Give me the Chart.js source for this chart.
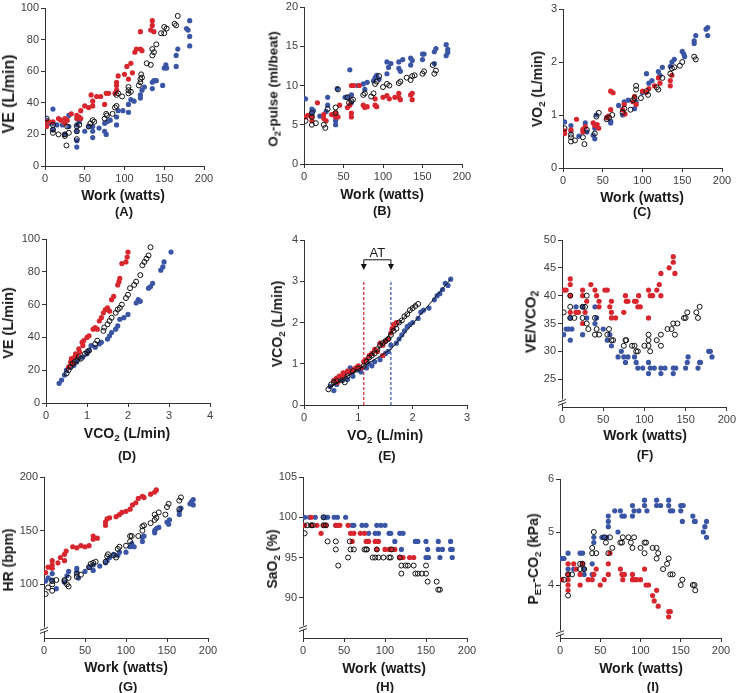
<!DOCTYPE html>
<html>
<head>
<meta charset="utf-8">
<script src="https://cdn.jsdelivr.net/npm/chart.js@4"></script>
<style>
  html, body { margin: 0; padding: 0; background: #fff; overflow: hidden; }
  body { width: 738px; height: 693px; position: relative; font-family: Arial, "Liberation Sans", sans-serif; }
  canvas { position: absolute; }
  .t { position: absolute; white-space: nowrap; font-weight: bold; color: #1a1a1a; transform: translate(-50%, -50%); }
  .t.v { transform: translate(-50%, -50%) rotate(-90deg); }
  .t sub { font-size: 70%; vertical-align: -0.3em; line-height: 0; }
  .lbl { font-size: 13px; }
</style>
</head>
<body>
<script>
// tick values
const workTicks = [0, 50, 100, 150, 200];
const veTicks = [0, 20, 40, 60, 80, 100];
const o2pTicks = [0, 5, 10, 15, 20];
const vo2Ticks = [0, 1, 2, 3];
const vco2Ticks = [0, 1, 2, 3, 4];
const vo2xTicks = [0, 1, 2, 3];
const eqTicks = [25, 30, 35, 40, 45, 50];
const hrTicks = [100, 150, 200];
const sao2Ticks = [90, 95, 100, 105];
const petTicks = [4, 5, 6];

// (A) VE vs work
const veWorkRed = [[2,25],[2,28],[5,28],[10,28],[17,30],[20,29],[25,27],[25,30],[28,29],[33,33],[40,32],[40,30],[43,31],[45,35],[45,30],[50,38],[55,37],[58,45],[60,41],[60,38],[65,44],[70,44],[75,39],[77,46],[80,46],[88,46],[90,48],[90,51],[90,53],[92,57],[100,58],[103,63],[105,55],[108,65],[110,59],[113,72],[115,74],[120,85],[120,74],[122,73],[133,86],[135,92],[135,89],[137,85]];
const veWorkBlack = [[2,30],[10,26],[10,23],[10,21],[17,20],[25,20],[25,19],[27,13],[30,21],[28,25],[40,25],[40,17],[40,22],[43,26],[55,25],[57,27],[60,29],[62,28],[75,30],[77,33],[78,32],[85,33],[88,37],[90,38],[90,45],[92,46],[97,44],[105,50],[105,48],[105,46],[108,47],[118,51],[120,53],[120,55],[121,58],[122,56],[128,65],[133,64],[135,70],[135,74],[137,72],[140,77],[146,84],[150,84],[150,88],[153,87],[163,90],[165,89],[167,95]];
const veWorkBlue = [[2,29],[5,27],[10,36],[10,27],[10,23],[15,26],[22,26],[25,20],[30,25],[30,32],[40,26],[40,22],[40,16],[40,12],[43,28],[50,22],[55,25],[60,22],[60,18],[60,25],[68,24],[75,22],[75,27],[77,20],[78,28],[82,29],[90,31],[90,26],[92,35],[98,35],[105,34],[105,39],[108,42],[112,41],[120,45],[120,43],[122,48],[125,50],[135,49],[135,53],[137,54],[140,54],[148,51],[150,62],[152,64],[153,62],[165,63],[165,70],[167,74],[178,87],[180,86],[182,92],[182,82],[182,76]];

// (B) O2-pulse vs work
const o2pRed = [[2,6],[5,6.2],[10,6],[10,5.5],[17,7.8],[25,5.8],[25,6.3],[28,5.5],[35,6.3],[40,6],[40,6.5],[43,6],[45,7.5],[55,7.2],[58,7.5],[60,6.5],[60,6],[60,10],[63,10],[70,10],[75,7.5],[77,7.2],[80,7.3],[90,7.5],[90,8.3],[92,7.3],[100,8.5],[105,8.7],[108,8.3],[115,8.5],[120,9],[120,8.5],[122,8.2],[135,8.8],[137,8.2],[137,9]];
const o2pBlack = [[2,5.5],[10,5],[10,6],[10,6.5],[15,5.2],[25,5],[27,4.6],[30,7],[40,6.5],[40,7.2],[43,9.5],[55,8.5],[57,7.8],[60,8],[62,8.2],[75,8.8],[77,9],[85,8.6],[88,9],[90,10.2],[92,10.5],[95,11.2],[100,9.8],[105,10.2],[108,10],[120,10.3],[122,10.5],[130,11],[135,10.7],[137,11.2],[140,11.3],[150,11.5],[152,11.8],[165,11.5],[167,11.9],[163,12.6]];
const o2pBlue = [[2,8.3],[10,7],[10,6.5],[12,6.8],[20,6.1],[28,6.7],[30,7.5],[30,8.5],[40,5.5],[40,5],[40,6.2],[42,9.6],[52,8.5],[55,8.5],[58,12],[60,8.8],[60,7.8],[68,10],[75,10.2],[77,9.5],[80,10.4],[88,10.6],[90,11],[92,11.3],[95,10.8],[105,13],[105,11.5],[107,12.3],[110,12.8],[120,13],[120,12.2],[122,11.8],[125,13.3],[135,13.5],[135,12.6],[137,13.2],[150,14],[150,13.3],[152,14],[165,14.3],[167,14.7],[165,12.8],[180,15.2],[182,14.6],[182,14.2],[180,13.8]];

// (C) VO2 vs work
const vo2Red = [[2,0.7],[2,0.65],[10,0.72],[17,0.92],[25,0.73],[25,0.68],[28,0.78],[38,0.85],[40,0.8],[43,0.82],[45,0.75],[55,0.95],[57,0.98],[60,1.45],[60,1.1],[63,1.42],[75,1.1],[77,1.2],[78,1.02],[88,1.25],[90,1.35],[92,1.2],[100,1.45],[105,1.43],[108,1.5],[115,1.55],[120,1.7],[122,1.6],[135,1.65],[135,1.55],[137,1.75]];
const vo2Black = [[2,0.75],[10,0.5],[10,0.58],[10,0.63],[15,0.52],[25,0.58],[27,0.45],[30,0.72],[40,0.65],[42,0.97],[45,1.04],[55,0.92],[58,0.95],[62,1.0],[75,1.05],[77,1.12],[85,1.1],[88,1.28],[90,1.32],[92,1.48],[92,1.55],[98,1.32],[105,1.45],[107,1.38],[118,1.52],[120,1.48],[125,1.7],[135,1.78],[137,1.88],[140,1.9],[147,1.93],[150,2.0],[165,2.1],[167,2.05]];
const vo2Blue = [[2,0.87],[10,0.8],[10,0.7],[20,0.6],[28,0.85],[30,0.68],[38,0.62],[40,0.55],[40,0.75],[42,1.0],[55,0.95],[60,0.88],[60,0.85],[70,1.18],[75,1.0],[77,1.25],[82,1.28],[90,1.12],[92,1.25],[100,1.42],[105,1.78],[108,1.6],[112,1.65],[120,1.82],[122,1.75],[125,1.9],[135,1.92],[137,2.0],[140,2.05],[150,2.2],[152,2.15],[153,2.1],[165,2.4],[167,2.5],[165,2.35],[180,2.62],[182,2.65],[182,2.5]];

// (D) VE vs VCO2
const veVco2Red = [[0.55,22],[0.6,25],[0.62,27],[0.65,24],[0.7,28],[0.72,30],[0.75,29],[0.8,33],[0.82,31],[0.88,37],[0.9,35],[0.92,38],[1.0,40],[1.05,41],[1.15,45],[1.2,46],[1.25,45],[1.3,50],[1.35,52],[1.4,55],[1.45,57],[1.5,58],[1.55,56],[1.6,63],[1.65,65],[1.75,72],[1.78,74],[1.8,76],[1.85,85],[1.95,86],[2.0,92],[1.98,89]];
const veVco2Black = [[0.5,18],[0.55,20],[0.6,22],[0.65,24],[0.7,25],[0.75,26],[0.8,28],[0.85,27],[0.95,30],[1.0,31],[1.05,32],[1.2,36],[1.25,38],[1.4,44],[1.42,46],[1.5,48],[1.55,50],[1.6,52],[1.7,55],[1.75,57],[1.8,58],[1.85,60],[1.95,64],[2.0,66],[2.05,70],[2.15,72],[2.2,74],[2.3,78],[2.35,84],[2.4,86],[2.45,88],[2.5,90],[2.55,95]];
const veVco2Blue = [[0.32,12],[0.38,14],[0.45,17],[0.5,20],[0.6,22],[0.68,23],[0.75,25],[0.8,27],[0.9,28],[1.0,30],[1.05,32],[1.1,35],[1.2,34],[1.3,36],[1.35,37],[1.5,39],[1.55,41],[1.6,43],[1.7,45],[1.75,47],[1.8,51],[1.9,52],[2.0,54],[2.2,61],[2.25,63],[2.3,62],[2.5,70],[2.55,71],[2.6,73],[2.8,81],[2.85,83],[2.88,86],[3.05,92]];

// (E) VCO2 vs VO2, with fitted lines and AT
const vslopeRed = [[0.55,0.6],[0.6,0.65],[0.62,0.55],[0.65,0.7],[0.7,0.68],[0.72,0.78],[0.75,0.75],[0.8,0.82],[0.85,0.8],[0.9,0.85],[0.95,0.9],[1.0,0.95],[1.05,0.9],[1.1,1.05],[1.15,1.1],[1.2,1.2],[1.25,1.25],[1.3,1.35],[1.35,1.3],[1.4,1.5],[1.45,1.45],[1.45,1.2],[1.5,1.55],[1.55,1.6],[1.6,1.75],[1.62,1.85],[1.65,1.95],[1.7,2.0]];
const vslopeBlack = [[0.45,0.38],[0.5,0.5],[0.55,0.55],[0.6,0.58],[0.7,0.6],[0.75,0.55],[0.8,0.7],[0.9,0.82],[1.0,0.88],[1.1,0.95],[1.15,1.05],[1.2,1.15],[1.25,1.2],[1.3,1.25],[1.35,1.35],[1.4,1.45],[1.45,1.5],[1.5,1.55],[1.55,1.6],[1.6,1.7],[1.65,1.8],[1.7,1.85],[1.75,2.0],[1.8,2.05],[1.85,2.15],[1.9,2.2],[1.95,2.3],[2.0,2.35],[2.05,2.4],[2.1,2.45]];
const vslopeBlue = [[0.48,0.45],[0.55,0.35],[0.6,0.5],[0.7,0.6],[0.75,0.75],[0.8,0.62],[0.85,0.9],[0.9,0.7],[0.95,0.85],[1.0,0.85],[1.05,0.8],[1.15,0.9],[1.2,1.0],[1.25,0.95],[1.3,1.05],[1.4,1.1],[1.45,1.2],[1.5,1.25],[1.55,1.3],[1.6,1.45],[1.7,1.5],[1.75,1.6],[1.8,1.7],[1.85,1.8],[1.9,1.9],[1.95,1.95],[2.0,2.0],[2.1,2.1],[2.15,2.25],[2.2,2.3],[2.3,2.35],[2.4,2.55],[2.45,2.65],[2.5,2.7],[2.55,2.8],[2.6,2.95],[2.65,2.9],[2.7,3.05]];
const fitUpper = [[0.45,0.42],[1.1,0.95],[2.05,2.45]];
const fitLower = [[0.5,0.45],[1.6,1.35],[2.7,3.05]];
const atRed = 1.1;
const atBlue = 1.6;

// (F) VE/VCO2 vs work
const eqRed = [[2,41],[5,41],[10,43],[10,42],[10,40],[10,37],[17,37],[20,37],[25,41],[25,40],[25,35],[28,37],[30,39],[35,42],[40,41],[42,40],[45,38],[45,39],[52,41],[55,41],[58,38],[60,39],[60,37],[60,36],[65,36],[75,37],[77,40],[78,39],[80,39],[88,39],[90,39],[92,38],[93,40],[95,38],[105,36],[105,41],[107,40],[110,40],[115,41],[118,42],[120,40],[120,44],[130,45],[135,46],[135,47],[137,44]];
const eqBlack = [[2,37],[10,40],[10,38],[10,36],[15,36],[25,38],[25,36],[28,38],[30,40],[30,35],[32,34],[40,36],[40,33],[42,34],[45,33],[55,33],[57,34],[60,32],[62,32],[75,31],[77,32],[78,32],[85,31],[88,31],[90,30],[92,30],[100,31],[105,33],[105,32],[105,31],[107,30],[115,32],[120,33],[120,31],[128,34],[133,34],[135,35],[137,33],[140,35],[148,36],[150,36],[152,37],[163,37],[165,36],[167,38]];
const eqBlue = [[2,33],[5,34],[8,34],[10,32],[10,36],[12,34],[17,38],[25,38],[25,33],[30,36],[40,38],[40,35],[42,36],[50,34],[55,32],[58,33],[60,31],[68,29],[72,30],[75,29],[77,28],[80,29],[88,29],[90,28],[92,27],[98,27],[105,28],[105,26],[107,27],[112,27],[120,27],[120,26],[125,27],[135,27],[135,26],[138,27],[150,27],[152,28],[153,29],[165,27],[167,28],[168,28],[178,30],[180,30],[182,29]];

// (G) HR vs work
const hrRed = [[2,111],[5,116],[10,118],[10,122],[10,115],[17,120],[20,125],[25,122],[25,128],[27,131],[35,135],[40,134],[45,136],[50,135],[55,136],[60,145],[60,142],[65,143],[75,155],[75,158],[77,161],[80,162],[88,163],[92,165],[95,167],[100,168],[105,170],[108,174],[112,176],[115,180],[120,182],[122,181],[130,184],[135,186],[137,188]];
const hrBlack = [[2,91],[5,97],[10,94],[10,100],[10,103],[15,104],[25,103],[25,104],[28,100],[30,98],[30,106],[40,107],[40,110],[45,109],[55,116],[57,119],[60,120],[63,121],[75,121],[77,126],[78,128],[85,127],[88,125],[90,133],[92,135],[100,136],[105,140],[105,145],[107,145],[115,145],[120,150],[120,154],[122,155],[130,157],[135,165],[135,160],[137,162],[140,167],[148,165],[150,172],[152,175],[165,178],[167,181],[165,170]];
const hrBlue = [[2,103],[5,106],[10,110],[10,104],[15,96],[25,102],[28,108],[30,112],[40,115],[40,112],[42,106],[50,112],[55,116],[60,118],[60,113],[68,117],[75,120],[77,122],[80,125],[85,128],[90,127],[92,130],[100,130],[105,135],[107,138],[110,135],[120,140],[120,144],[122,145],[135,150],[135,148],[137,152],[140,153],[150,158],[152,156],[153,160],[165,165],[165,168],[167,171],[178,175],[180,177],[182,179],[182,174]];

// (H) SaO2 vs work
const sao2Red = [[2,99],[10,100],[10,99],[17,99],[22,98],[25,99],[28,99],[40,99],[43,99],[45,99],[55,99],[58,98],[60,97],[62,98],[70,98],[75,98],[77,97],[80,97],[88,97],[90,96],[92,97],[100,96],[105,96],[107,96],[112,96],[118,95],[120,95],[122,95],[130,95],[135,95]];
const sao2Black = [[2,98],[5,99],[10,99],[12,99],[25,100],[25,99],[28,99],[30,97],[40,97],[40,96],[43,94],[55,95],[57,97],[58,96],[62,96],[75,96],[77,96],[78,96],[85,95],[88,95],[90,96],[92,95],[98,95],[105,95],[107,95],[108,96],[118,95],[120,94],[120,93],[125,94],[128,94],[135,94],[137,93],[140,93],[145,93],[150,93],[150,94],[152,92],[163,92],[165,91],[167,91]];
const sao2Blue = [[2,100],[8,100],[15,100],[25,100],[28,100],[30,100],[38,100],[42,100],[52,100],[40,99],[60,99],[62,99],[72,99],[77,99],[80,98],[88,98],[90,99],[92,98],[95,99],[100,99],[105,98],[107,98],[112,97],[118,98],[122,98],[120,96],[137,97],[140,97],[150,97],[152,96],[153,95],[150,95],[165,97],[165,96],[167,95],[170,96],[180,97],[180,96],[182,95],[182,96]];

// (I) PET-CO2 vs work
const petRed = [[2,4.1],[10,4.4],[10,4.2],[10,4.1],[10,4.0],[10,3.9],[17,4.4],[20,4.3],[25,4.2],[25,4.0],[28,4.4],[35,4.1],[40,4.1],[42,4.2],[45,4.3],[50,4.0],[55,4.1],[60,4.2],[60,4.4],[62,4.6],[75,4.3],[77,4.2],[78,4.1],[80,4.2],[90,4.1],[90,4.2],[92,4.1],[95,4.1],[100,4.1],[105,4.3],[107,4.0],[110,4.0],[115,3.8],[117,3.7],[120,3.9],[122,3.6],[135,3.5],[135,3.4],[137,3.5]];
const petBlack = [[5,4.1],[10,4.2],[10,3.8],[15,4.2],[25,4.4],[25,4.3],[28,4.4],[30,4.3],[40,4.6],[40,4.7],[42,5.0],[45,4.6],[55,4.9],[57,4.8],[60,4.6],[62,4.9],[65,4.7],[75,4.8],[77,4.8],[78,4.9],[85,4.9],[88,4.8],[90,4.7],[92,4.9],[100,4.7],[105,4.6],[105,4.8],[107,4.8],[115,4.7],[120,4.7],[120,4.5],[122,4.6],[128,4.3],[133,4.4],[135,4.5],[137,4.2],[140,4.2],[150,4.0],[152,4.1],[165,4.0],[167,4.0],[168,3.9]];
const petBlue = [[2,4.5],[5,4.5],[10,4.6],[10,4.3],[17,4.3],[25,4.6],[28,4.6],[30,4.2],[30,4.3],[40,4.2],[40,4.4],[42,4.8],[42,4.9],[52,4.9],[55,4.9],[58,4.9],[60,5.1],[60,5.2],[60,5.3],[68,5.4],[72,5.0],[75,5.4],[77,5.3],[80,5.3],[90,5.3],[90,5.5],[92,5.4],[98,5.4],[105,5.6],[105,5.5],[108,5.4],[120,5.6],[120,5.5],[125,5.5],[135,5.6],[135,5.5],[137,5.4],[140,5.4],[150,5.5],[150,5.4],[152,5.2],[153,5.5],[165,5.3],[167,5.2],[168,5.2],[178,5.0],[180,5.1],[182,4.9],[182,5.2]];

const RED = '#d8262f';
const BLUE = '#3b55a5';
const AXIS = '#333';

Chart.defaults.font.family = 'Arial, "Liberation Sans", sans-serif';

const toXY = arr => arr.map(p => ({ x: p[0], y: p[1] }));

function pointSet(arr, kind) {
    if (kind === 'black') {
        return { data: toXY(arr), pointRadius: 2.5, pointBorderWidth: 1, pointBorderColor: '#111', pointBackgroundColor: 'rgba(255,255,255,0)' };
    }
    const c = kind === 'red' ? RED : BLUE;
    return { data: toXY(arr), pointRadius: 2.6, pointBorderWidth: 0, pointBackgroundColor: c, pointBorderColor: c };
}

function axis(min, max, ticks, isY) {
    const o = {
        type: 'linear', min: min, max: max,
        afterBuildTicks: s => { s.ticks = ticks.map(v => ({ value: v })); },
        ticks: { color: '#404040', font: { size: 11 }, padding: 2 },
        grid: { display: true, drawOnChartArea: false, drawTicks: true, tickLength: 4, color: AXIS },
        border: { display: true, color: AXIS, width: 1 }
    };
    if (isY) o.afterFit = s => { s.width = 40; };
    else o.afterFit = s => { s.height = 24; };
    return o;
}

// axis break marks on the y axis
const breakPlugin = {
    id: 'yBreak',
    afterDraw(chart, args, opts) {
        if (opts.at === undefined) return;
        const { ctx, scales: { x, y } } = chart;
        const px = x.left;
        const py = y.getPixelForValue(opts.at);
        ctx.save();
        ctx.fillStyle = '#fff';
        ctx.fillRect(px - 2, py - 2, 4, 4);
        ctx.strokeStyle = AXIS;
        ctx.lineWidth = 1;
        ctx.beginPath();
        ctx.moveTo(px - 4, py + 1); ctx.lineTo(px + 4, py - 2);
        ctx.moveTo(px - 4, py + 4); ctx.lineTo(px + 4, py + 1);
        ctx.stroke();
        ctx.restore();
    }
};

// anaerobic threshold markers for panel E
const atPlugin = {
    id: 'atMarks',
    beforeDatasetsDraw(chart, args, opts) {
        if (!opts.on) return;
        const { ctx, scales: { x, y } } = chart;
        ctx.save();
        ctx.lineWidth = 1.2;
        ctx.setLineDash([3, 2]);
        [[atRed, RED], [atBlue, BLUE]].forEach(([v, c]) => {
            ctx.strokeStyle = c;
            ctx.beginPath();
            ctx.moveTo(x.getPixelForValue(v), y.getPixelForValue(0));
            ctx.lineTo(x.getPixelForValue(v), y.getPixelForValue(3));
            ctx.stroke();
        });
        ctx.setLineDash([]);
        const x1 = x.getPixelForValue(atRed), x2 = x.getPixelForValue(atBlue);
        const yt = y.getPixelForValue(3.52), yb = y.getPixelForValue(3.3);
        ctx.strokeStyle = '#111';
        ctx.fillStyle = '#111';
        ctx.lineWidth = 1;
        ctx.beginPath();
        ctx.moveTo(x1, yb - 4); ctx.lineTo(x1, yt); ctx.lineTo(x2, yt); ctx.lineTo(x2, yb - 4);
        ctx.stroke();
        [x1, x2].forEach(xx => {
            ctx.beginPath();
            ctx.moveTo(xx - 3, yb - 5); ctx.lineTo(xx + 3, yb - 5); ctx.lineTo(xx, yb + 1);
            ctx.closePath();
            ctx.fill();
        });
        ctx.restore();
    }
};

const panels = [
    { key: 'A', rect: [45, 8, 204, 166], x: [0, 200, workTicks], y: [0, 100, veTicks], sets: [veWorkBlack, veWorkRed, veWorkBlue],
      yt: ['VE (L/min)', 9, 94, 16], xt: ['Work (watts)', 123, 195, 14], lt: [124, 211] },
    { key: 'B', rect: [304, 7, 462, 164], x: [0, 200, workTicks], y: [0, 20, o2pTicks], sets: [o2pBlack, o2pRed, o2pBlue],
      yt: ['O<sub>2</sub>-pulse (ml/beat)', 273, 89, 13.5], xt: ['Work (watts)', 382, 194, 14], lt: [382, 210] },
    { key: 'C', rect: [563, 9, 722, 168], x: [0, 200, workTicks], y: [0, 3, vo2Ticks], sets: [vo2Black, vo2Red, vo2Blue],
      yt: ['VO<sub>2</sub> (L/min)', 537, 89, 14], xt: ['Work (watts)', 642, 197, 14], lt: [642, 211] },
    { key: 'D', rect: [46, 239, 210, 403], x: [0, 4, vco2Ticks], y: [0, 100, veTicks], sets: [veVco2Black, veVco2Red, veVco2Blue],
      yt: ['VE (L/min)', 8, 323, 14.5], xt: ['VCO<sub>2</sub> (L/min)', 127, 433, 14], lt: [127, 455] },
    { key: 'E', rect: [304, 240, 467, 405], x: [0, 3, vo2xTicks], y: [0, 4, vco2Ticks], sets: [vslopeBlack, vslopeRed, vslopeBlue],
      fits: [fitUpper, fitLower], at: true,
      yt: ['VCO<sub>2</sub> (L/min)', 277, 324, 14], xt: ['VO<sub>2</sub> (L/min)', 385, 435, 14], lt: [387, 455] },
    { key: 'F', rect: [562, 240, 728, 407], x: [0, 200, workTicks], y: [20, 50, eqTicks], sets: [eqBlack, eqRed, eqBlue], brk: 21,
      yt: ['VE/VCO<sub>2</sub>', 530, 322, 15], xt: ['Work (watts)', 645, 435, 14], lt: [645, 454] },
    { key: 'G', rect: [44, 477, 208, 638], x: [0, 200, workTicks], y: [50, 200, hrTicks], sets: [hrBlack, hrRed, hrBlue], brk: 58,
      yt: ['HR (bpm)', 8, 560, 14], xt: ['Work (watts)', 126, 667, 14], lt: [128, 686] },
    { key: 'H', rect: [303, 477, 467, 638], x: [0, 200, workTicks], y: [85, 105, sao2Ticks], sets: [sao2Black, sao2Red, sao2Blue], brk: 86.3,
      yt: ['SaO<sub>2</sub> (%)', 272, 559, 14], xt: ['Work (watts)', 384, 668, 14], lt: [385, 686] },
    { key: 'I', rect: [560, 479, 721, 638], x: [0, 200, workTicks], y: [3, 6, petTicks], sets: [petBlack, petRed, petBlue], brk: 3.1,
      yt: ['P<sub>ET</sub>-CO<sub>2</sub> (kPa)', 533, 559, 14], xt: ['Work (watts)', 641, 668, 14], lt: [653, 686] }
];

function addText(html, x, y, size, vertical, cls) {
    const d = document.createElement('div');
    d.className = 't' + (vertical ? ' v' : '') + (cls ? ' ' + cls : '');
    d.innerHTML = html;
    d.style.left = x + 'px';
    d.style.top = y + 'px';
    if (size) d.style.fontSize = size + 'px';
    document.body.appendChild(d);
    return d;
}

panels.forEach(p => {
    const [L, T, R, B] = p.rect;
    const padR = Math.min(14, 738 - R);
    const cv = document.createElement('canvas');
    cv.width = (R - L) + 40 + padR;
    cv.height = (B - T) + 10 + 24;
    cv.style.left = (L - 40) + 'px';
    cv.style.top = (T - 10) + 'px';
    document.body.appendChild(cv);

    const datasets = [];
    if (p.fits) {
        p.fits.forEach(f => datasets.push({ type: 'line', data: toXY(f), showLine: true, borderColor: '#111', borderWidth: 1, pointRadius: 0, fill: false }));
    }
    datasets.push(pointSet(p.sets[0], 'black'));
    datasets.push(pointSet(p.sets[1], 'red'));
    datasets.push(pointSet(p.sets[2], 'blue'));

    const chart = new Chart(cv, {
        type: 'scatter',
        data: { datasets: datasets },
        options: {
            responsive: false,
            animation: false,
            layout: { padding: { top: 10, right: padR, left: 0, bottom: 0 } },
            scales: {
                x: axis(p.x[0], p.x[1], p.x[2], false),
                y: axis(p.y[0], p.y[1], p.y[2], true)
            },
            plugins: {
                legend: { display: false },
                tooltip: { enabled: false },
                yBreak: { at: p.brk },
                atMarks: { on: !!p.at }
            }
        },
        plugins: [breakPlugin, atPlugin]
    });

    addText(p.yt[0], p.yt[1], p.yt[2], p.yt[3], true);
    addText(p.xt[0], p.xt[1], p.xt[2], p.xt[3], false);
    addText('(' + p.key + ')', p.lt[0], p.lt[1], null, false, 'lbl');

    if (p.at) {
        const xs = chart.scales.x, ys = chart.scales.y;
        const ax = (L - 40) + xs.getPixelForValue((atRed + atBlue) / 2);
        const ay = (T - 10) + ys.getPixelForValue(3.72);
        const d = addText('AT', ax, ay, 13, false);
        d.style.fontWeight = 'normal';
    }
});
</script>
</body>
</html>
